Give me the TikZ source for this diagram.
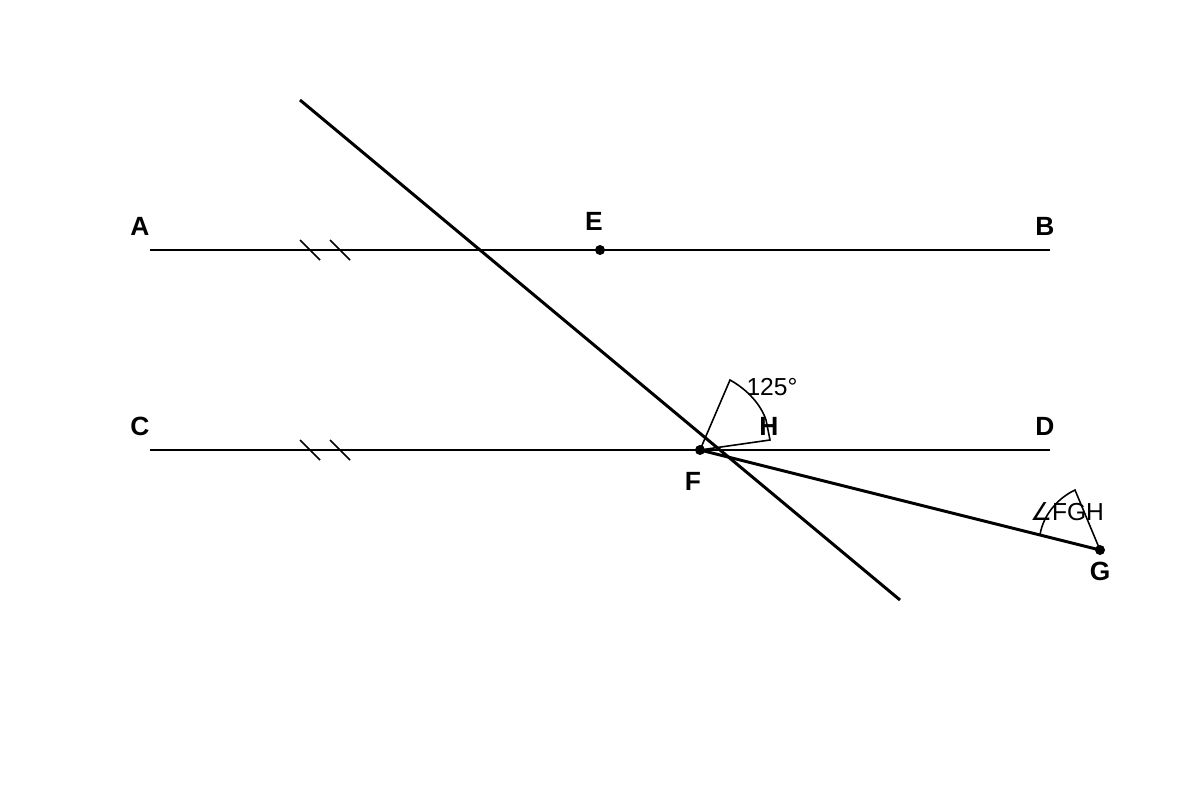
\documentclass[tikz,border=0pt]{standalone}
\usepackage{fontspec}
\setmainfont{Liberation Sans}
\newfontfamily\symfont{DejaVu Sans}
\begin{document}
\begin{tikzpicture}[x=0.02cm,y=-0.02cm,
  mainline/.style={line width=1.7pt, line cap=butt},
  thinline/.style={line width=0.9pt},
  tick/.style={line width=0.9pt},
  dot/.style={circle, fill=black, inner sep=0pt, minimum size=0.2cm},
  lbl/.style={font=\fontsize{15}{15}\selectfont\bfseries, inner sep=0pt},
  albl/.style={font=\fontsize{14}{14}\selectfont, inner sep=0pt}]
\useasboundingbox (0,0) rectangle (1200,800);
% points
\coordinate (A0) at (150,250);
\coordinate (B0) at (1050,250);
\coordinate (C0) at (150,450);
\coordinate (D0) at (1050,450);
\coordinate (T1) at (300,100);
\coordinate (T2) at (900,600);
\node[dot] (E) at (600,250) {};
\node[dot] (F) at (700,450) {};
\node[dot] (G) at (1100,550) {};
% lines
\draw[mainline] (A0) -- (B0);
\draw[mainline] (C0) -- (D0);
\draw[mainline] (T1) -- (T2);
\draw[mainline] (F.center) -- (G.center);
% ticks
\draw[tick] (300,240) -- (320,260);
\draw[tick] (330,240) -- (350,260);
\draw[tick] (300,440) -- (320,460);
\draw[tick] (330,440) -- (350,460);
% angle marks
\coordinate (FA) at (730,380);
\coordinate (FB) at (770,440);
\draw[thinline] (F.center) -- (FA) .. controls (748,390) and (761,405) .. (766,420) -- (FB) -- (F.center);
\coordinate (GA) at (1075,490);
\coordinate (GB) at (1040,535);
\draw[thinline] (G.center) -- (GA) .. controls (1058,498) and (1043,515) .. (GB);
% labels
\node[lbl] (lA) at (140,226) {A};
\node[lbl] (lB) at (1045,226) {B};
\node[lbl] (lC) at (140,426) {C};
\node[lbl] (lD) at (1045,426) {D};
\node[lbl] (lE) at (594,221) {E};
\node[lbl] (lF) at (693,481) {F};
\node[lbl] (lG) at (1100,571) {G};
\node[lbl] (lH) at (769,426) {H};
\node[albl] (a125) at (772,387) {125°};
\node[albl] (aFGH) at (1067,512) {{\symfont ∠}FGH};
\end{tikzpicture}
\end{document}
